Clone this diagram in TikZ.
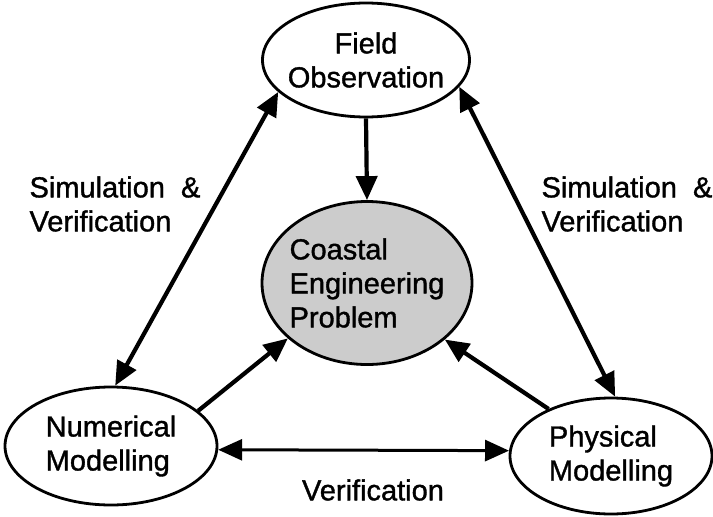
\documentclass[tikz,border=0pt]{standalone}
\usepackage{fontspec}
\setmainfont{Liberation Sans}[RawFeature={embolden=1.2}]
\usetikzlibrary{shapes.geometric,arrows.meta}
\begin{document}
\begin{tikzpicture}[x=1pt, y=-1pt, line join=round,
	font=\fontsize{29}{34}\selectfont,
	>={Triangle[length=24pt,width=21pt]},
	oval/.style={ellipse, draw, line width=2.8pt, inner ysep=0pt, inner xsep=-16pt},
	link/.style={line width=4.2pt}]
				\useasboundingbox (0,0) rectangle (713,517);
				% the four boxes
				\node[oval, minimum width=207, minimum height=114, align=center] (field) at (366,60) {Field\\Observation};
				\node[oval, minimum width=210, minimum height=163, fill=black!20, align=left] (coastal) at (367,283) {Coastal\\Engineering\\Problem};
				\node[oval, minimum width=212, minimum height=118, align=left] (numer) at (111,446) {Numerical\\Modelling};
				\node[oval, minimum width=202, minimum height=116, align=left] (phys) at (611,456) {Physical\\Modelling};
				% labels
				\node[align=left] (simL) at (115,204) {Simulation \ \&\\Verification};
				\node[align=left] (simR) at (627,204) {Simulation \ \&\\Verification};
				\node (verif) at (373,490) {Verification};
				% connectors
				\draw[link,->] (field.south) -- (coastal.north);
				\draw[link,<->] (numer.86) -- (field.200);
				\draw[link,<->] (field.344) -- (phys.86);
				\draw[link,<->,line width=3pt] (numer.-2) -- (phys.177);
				\draw[link,->] (numer.22) -- (coastal.215);
				\draw[link,->] (phys.143) -- (coastal.324);
			\end{tikzpicture}
\end{document}
